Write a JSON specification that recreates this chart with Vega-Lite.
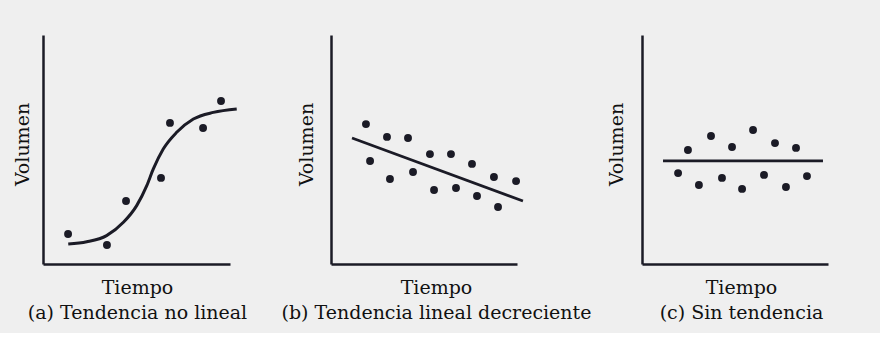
{
  "$schema": "https://vega.github.io/schema/vega-lite/v6.json",
  "background": "#efefef",
  "padding": {"left": 13, "top": 35, "right": 52, "bottom": 11},
  "bounds": "flush",
  "spacing": 101,
  "config": {
    "view": {"stroke": null},
    "font": "DejaVu Serif",
    "axis": {
      "domainColor": "#1b1b26",
      "domainWidth": 2.5,
      "ticks": false,
      "labels": false,
      "grid": false,
      "titleFont": "DejaVu Serif",
      "titleFontSize": 19,
      "titleFontWeight": "normal",
      "titleColor": "#111111",
      "titleLineHeight": 25
    }
  },
  "datasets": {
    "a_puntos": [
      {"tiempo": 1.34, "volumen": 1.31},
      {"tiempo": 3.42, "volumen": 0.83},
      {"tiempo": 4.44, "volumen": 2.75},
      {"tiempo": 6.31, "volumen": 3.76},
      {"tiempo": 6.79, "volumen": 6.16},
      {"tiempo": 8.56, "volumen": 5.94},
      {"tiempo": 9.52, "volumen": 7.12}
    ],
    "a_curva": [
      {"tiempo": 1.35, "volumen": 0.87},
      {"tiempo": 2.34, "volumen": 0.97},
      {"tiempo": 3.4, "volumen": 1.24},
      {"tiempo": 4.3, "volumen": 1.82},
      {"tiempo": 5.01, "volumen": 2.55},
      {"tiempo": 5.55, "volumen": 3.42},
      {"tiempo": 5.9, "volumen": 4.15},
      {"tiempo": 6.43, "volumen": 5.02},
      {"tiempo": 7.15, "volumen": 5.75},
      {"tiempo": 8.04, "volumen": 6.33},
      {"tiempo": 9.11, "volumen": 6.62},
      {"tiempo": 10.36, "volumen": 6.77}
    ],
    "b_puntos": [
      {"tiempo": 1.88, "volumen": 6.11},
      {"tiempo": 2.1, "volumen": 4.5},
      {"tiempo": 3.01, "volumen": 5.55},
      {"tiempo": 3.17, "volumen": 3.71},
      {"tiempo": 4.14, "volumen": 5.5},
      {"tiempo": 4.41, "volumen": 4.02},
      {"tiempo": 5.32, "volumen": 4.8},
      {"tiempo": 5.54, "volumen": 3.23},
      {"tiempo": 6.45, "volumen": 4.8},
      {"tiempo": 6.72, "volumen": 3.32},
      {"tiempo": 7.58, "volumen": 4.37},
      {"tiempo": 7.85, "volumen": 2.97},
      {"tiempo": 8.76, "volumen": 3.8},
      {"tiempo": 8.98, "volumen": 2.49},
      {"tiempo": 9.95, "volumen": 3.62}
    ],
    "b_recta": [
      {"tiempo": 1.13, "volumen": 5.5},
      {"tiempo": 10.32, "volumen": 2.75}
    ],
    "c_puntos": [
      {"tiempo": 1.94, "volumen": 3.97},
      {"tiempo": 2.47, "volumen": 4.98},
      {"tiempo": 3.06, "volumen": 3.45},
      {"tiempo": 3.71, "volumen": 5.59},
      {"tiempo": 4.3, "volumen": 3.76},
      {"tiempo": 4.84, "volumen": 5.11},
      {"tiempo": 5.38, "volumen": 3.28},
      {"tiempo": 5.97, "volumen": 5.85},
      {"tiempo": 6.56, "volumen": 3.89},
      {"tiempo": 7.15, "volumen": 5.28},
      {"tiempo": 7.74, "volumen": 3.36},
      {"tiempo": 8.28, "volumen": 5.07},
      {"tiempo": 8.87, "volumen": 3.84}
    ],
    "c_recta": [
      {"tiempo": 1.13, "volumen": 4.5},
      {"tiempo": 9.73, "volumen": 4.5}
    ]
  },
  "hconcat": [
    {
      "width": 187,
      "height": 229,
      "encoding": {
        "x": {"field": "tiempo", "type": "quantitative", "scale": {"domain": [0, 10], "nice": false, "zero": false},
              "axis": {"title": ["Tiempo", "(a) Tendencia no lineal"], "titleX": 94, "titlePadding": 14}},
        "y": {"field": "volumen", "type": "quantitative", "scale": {"domain": [0, 10], "nice": false, "zero": false},
              "axis": {"title": "Volumen", "titleY": 109, "titlePadding": 11}}
      },
      "layer": [
        {"data": {"name": "a_curva"}, "mark": {"type": "line", "interpolate": "monotone", "strokeWidth": 3, "color": "#1b1b26"}},
        {"data": {"name": "a_puntos"}, "mark": {"type": "circle", "size": 62, "color": "#1b1b26", "opacity": 1}}
      ]
    },
    {
      "width": 210,
      "height": 229,
      "encoding": {
        "x": {"field": "tiempo", "type": "quantitative", "scale": {"domain": [0, 10], "range": [0, 186], "nice": false, "zero": false},
              "axis": {"title": ["Tiempo", "(b) Tendencia lineal decreciente"], "titleX": 105, "titlePadding": 14}},
        "y": {"field": "volumen", "type": "quantitative", "scale": {"domain": [0, 10], "nice": false, "zero": false},
              "axis": {"title": "Volumen", "titleY": 109, "titlePadding": 15}}
      },
      "layer": [
        {"data": {"name": "b_recta"}, "mark": {"type": "line", "strokeWidth": 2.8, "color": "#1b1b26"}},
        {"data": {"name": "b_puntos"}, "mark": {"type": "circle", "size": 62, "color": "#1b1b26", "opacity": 1}}
      ]
    },
    {
      "width": 186,
      "height": 229,
      "encoding": {
        "x": {"field": "tiempo", "type": "quantitative", "scale": {"domain": [0, 10], "nice": false, "zero": false},
              "axis": {"title": ["Tiempo", "(c) Sin tendencia"], "titleX": 99, "titlePadding": 14}},
        "y": {"field": "volumen", "type": "quantitative", "scale": {"domain": [0, 10], "nice": false, "zero": false},
              "axis": {"title": "Volumen", "titleY": 109, "titlePadding": 16}}
      },
      "layer": [
        {"data": {"name": "c_recta"}, "mark": {"type": "line", "strokeWidth": 2.8, "color": "#1b1b26"}},
        {"data": {"name": "c_puntos"}, "mark": {"type": "circle", "size": 62, "color": "#1b1b26", "opacity": 1}}
      ]
    }
  ]
}
